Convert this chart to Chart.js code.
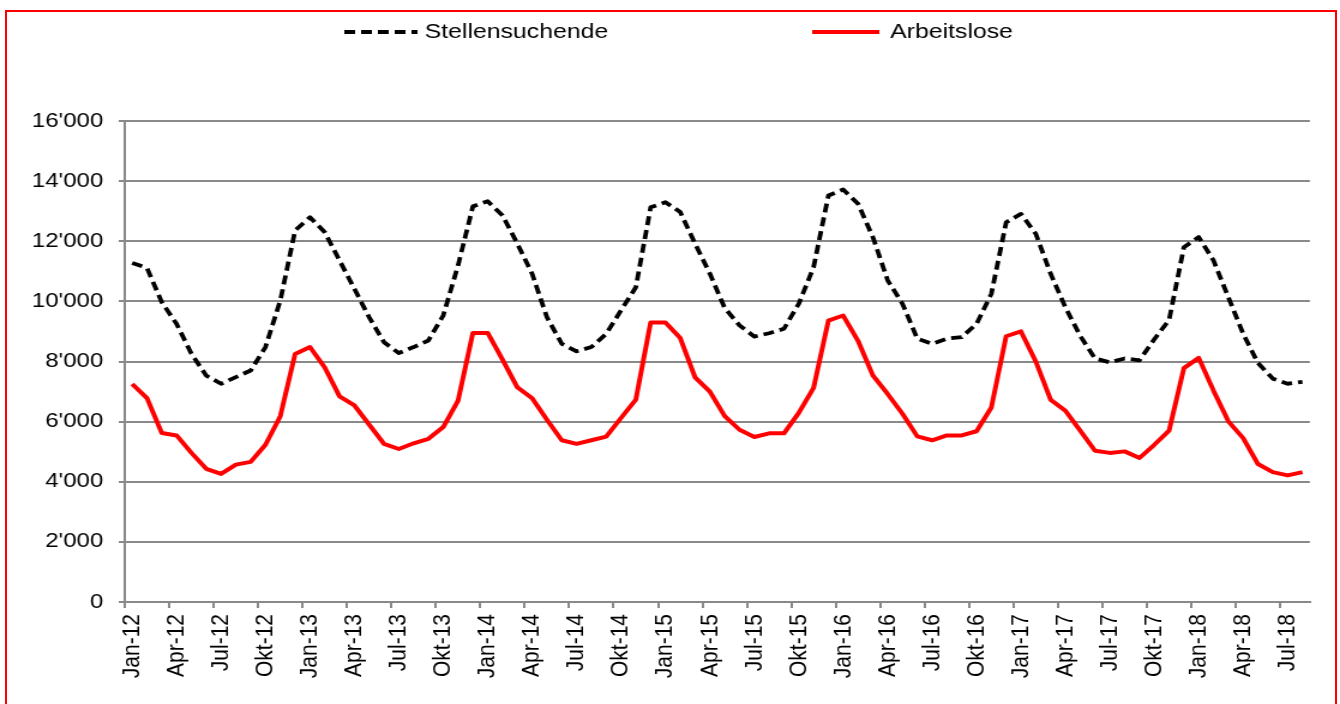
<!DOCTYPE html>
<html>
<head>
<meta charset="utf-8">
<title>Stellensuchende und Arbeitslose</title>
<script src="https://cdn.jsdelivr.net/npm/chart.js@4.4.1/dist/chart.umd.min.js"></script>
<style>
	html, body { margin: 0; padding: 0; background: #fff; overflow: hidden; }
	/* red frame round the whole picture, bottom edge runs off the page */
	#frame { position: absolute; left: 5px; top: 10px; width: 1332px; height: 720px; border: 2px solid #ff0000; box-sizing: border-box; }
	/* the original chart was stretched sideways, so we draw narrow and stretch it too */
	#wrap { position: absolute; left: 0; top: 0; width: 1117px; height: 704px; transform: scaleX(1.19964); transform-origin: 0 0; }
</style>
</head>
<body>
<div id="frame"></div>
<div id="wrap"><canvas id="ChartA" width="1117" height="704"></canvas></div>

<script>
//monthly values Jan-12 to Aug-18
var stellensuchendeData = [
	11280, 11110, 9970, 9250, 8260, 7530, 7260, 7480, 7700, 8480, 10030, 12360,
	12800, 12300, 11360, 10420, 9470, 8640, 8280, 8480, 8700, 9530, 11200, 13160,
	13330, 12860, 11920, 10920, 9470, 8590, 8340, 8480, 8920, 9700, 10470, 13130,
	13300, 12970, 11920, 10920, 9780, 9200, 8830, 8940, 9090, 9920, 11140, 13520,
	13720, 13250, 12140, 10700, 9920, 8760, 8590, 8760, 8810, 9250, 10250, 12630,
	12910, 12250, 10920, 9800, 8850, 8100, 7970, 8100, 8040, 8740, 9380, 11800,
	12140, 11360, 10140, 8920, 7950, 7430, 7260, 7320
];

var arbeitsloseData = [
	7250, 6780, 5620, 5540, 4960, 4430, 4260, 4570, 4660, 5230, 6180, 8250,
	8480, 7800, 6840, 6540, 5900, 5260, 5090, 5280, 5430, 5820, 6700, 8950,
	8950, 8060, 7140, 6780, 6060, 5380, 5260, 5380, 5500, 6120, 6730, 9300,
	9300, 8780, 7470, 7000, 6180, 5730, 5490, 5610, 5610, 6290, 7120, 9360,
	9530, 8690, 7540, 6920, 6260, 5510, 5380, 5540, 5540, 5680, 6470, 8840,
	9000, 8000, 6730, 6360, 5700, 5030, 4960, 5010, 4790, 5230, 5700, 7780,
	8120, 7030, 6010, 5450, 4590, 4320, 4210, 4320
];

var monthNames = ["Jan", "Feb", "Mär", "Apr", "Mai", "Jun", "Jul", "Aug", "Sep", "Okt", "Nov", "Dez"];
var firstYear = 12;

//category labels like "Jan-12", one per month
var xLabels = [];
for (var i = 0; i < stellensuchendeData.length; i++)
{
	xLabels.push(monthNames[i % 12] + "-" + (firstYear + Math.floor(i / 12)));
}

var fontFamily = "'Liberation Sans', Arial, sans-serif";
var gridGrey = "#898989";

//where the two legend entries sit (canvas coords, before the stretch)
var legendSpots = [
	{x: 287, w: 61, textX: 354},
	{x: 677, w: 56, textX: 742}
];
var legendY = 32;

//Excel style legend: line sample then text, spread out along the top
const topLegend = {
	id: "topLegend",
	afterDraw: function(chart)
	{
		var ctx = chart.ctx;
		chart.data.datasets.forEach(function(ds, i)
		{
			var spot = legendSpots[i];
			ctx.save();
			ctx.strokeStyle = ds.borderColor;
			ctx.lineWidth = ds.borderWidth;
			ctx.setLineDash(ds.borderDash || []);
			ctx.beginPath();
			ctx.moveTo(spot.x, legendY);
			ctx.lineTo(spot.x + spot.w, legendY);
			ctx.stroke();
			ctx.setLineDash([]);
			ctx.fillStyle = "#000";
			ctx.font = "20.7px " + fontFamily;
			ctx.textBaseline = "middle";
			ctx.fillText(ds.label, spot.textX, legendY);
			ctx.restore();
		});
	}
};

//16000 -> 16'000
function swissNumber(value)
{
	return value.toString().replace(/\B(?=(\d{3})+(?!\d))/g, "'");
}

Chart.defaults.font.family = fontFamily;
Chart.defaults.color = "#000";

new Chart("ChartA",
{
	type: "line",
	data:
	{
		labels: xLabels,
		datasets: [
		{
			label: "Stellensuchende",
			data: stellensuchendeData,
			borderColor: "#000000",
			borderWidth: 3.8,
			borderDash: [9, 5],
			borderJoinStyle: "round",
			pointRadius: 0,
			tension: 0,
			fill: false
		},
		{
			label: "Arbeitslose",
			data: arbeitsloseData,
			borderColor: "#ff0000",
			borderWidth: 4,
			borderJoinStyle: "round",
			pointRadius: 0,
			tension: 0,
			fill: false
		}]
	},
	options:
	{
		responsive: false,
		animation: false,
		layout: {padding: {top: 121, right: 22, bottom: 0, left: 0}},
		plugins:
		{
			legend: {display: false},
			tooltip: {enabled: false}
		},
		scales:
		{
			x:
			{
				offset: true,
				grid:
				{
					offset: true,
					drawOnChartArea: false,
					drawTicks: true,
					tickLength: 6,
					lineWidth: 2,
					//tick mark only at every quarter
					color: function(c) { return c.index % 3 === 0 ? gridGrey : "rgba(0,0,0,0)"; }
				},
				border: {display: true, color: gridGrey, width: 2},
				ticks:
				{
					autoSkip: false,
					maxRotation: 90,
					minRotation: 90,
					padding: 6,
					font: {size: 21},
					callback: function(value, index)
					{
						return index % 3 === 0 ? this.getLabelForValue(value) : "";
					}
				},
				afterFit: function(scale) { scale.height = 102; }
			},
			y:
			{
				min: 0,
				max: 16000,
				ticks:
				{
					stepSize: 2000,
					padding: 13,
					font: {size: 20},
					callback: function(value) { return swissNumber(value); }
				},
				grid: {color: gridGrey, lineWidth: 2, tickLength: 5},
				border: {color: gridGrey, width: 2},
				afterFit: function(scale) { scale.width = 104; }
			}
		}
	},
	plugins: [topLegend]
});
</script>
</body>
</html>
